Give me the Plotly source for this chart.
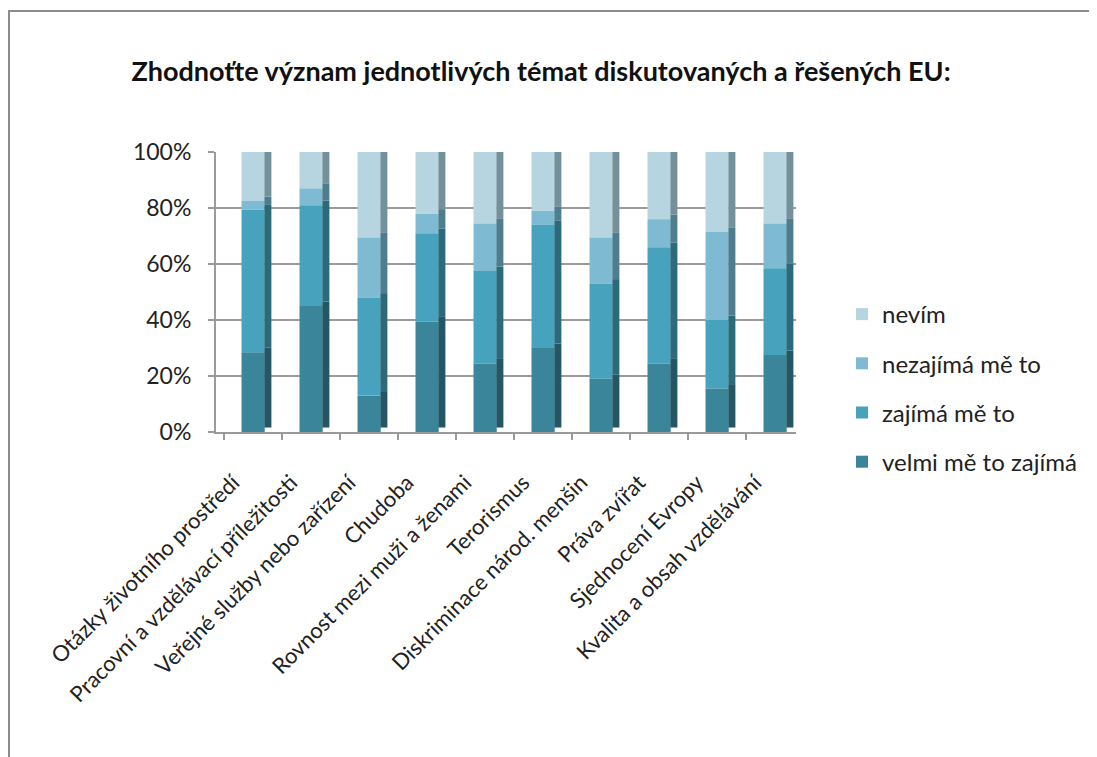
import numpy as np
import plotly.graph_objects as go

categories = [
    "Otázky životního prostředí",
    "Pracovní a vzdělávací příležitosti",
    "Veřejné služby nebo zařízení",
    "Chudoba",
    "Rovnost mezi muži a ženami",
    "Terorismus",
    "Diskriminace národ. menšin",
    "Práva zvířat",
    "Sjednocení Evropy",
    "Kvalita a obsah vzdělávání",
]
series_names = ["velmi mě to zajímá", "zajímá mě to", "nezajímá mě to", "nevím"]
velmi = [28.5, 45, 13, 39.5, 24.5, 30, 19, 24.5, 15.5, 27.5]
zajima = [51, 36, 35, 31.5, 33, 44, 34, 41.5, 24.5, 31]
nezajima = [3, 6, 21.5, 7, 17, 5, 16.5, 10, 31.5, 16]
nevim = [17.5, 13, 30.5, 22, 25.5, 21, 30.5, 24, 28.5, 25.5]
y_ticks = [0, 20, 40, 60, 80, 100]
y_tick_labels = ["0%", "20%", "40%", "60%", "80%", "100%"]

front_colors = ["#3a8599", "#47a3bd", "#7ebbd2", "#b7d5e0"]
side_colors = ["#245664", "#2c6979", "#4e7e8d", "#74909a"]

values = np.array([velmi, zajima, nezajima, nevim], dtype=float)
totals = values.sum(axis=0)
pct = values / totals * 100
bases = np.vstack([np.zeros(len(categories)), np.cumsum(pct, axis=0)[:-1]])

font_family = "Lato, 'Open Sans', sans-serif"
fig = go.Figure()

front_w = 0.40
side_w = 0.12
lift = 1.6

# front faces, added top series first so the legend lists "nevím" first
for i in reversed(range(len(series_names))):
    name = series_names[i]
    fig.add_trace(go.Bar(
        x=categories, y=pct[i], base=bases[i],
        width=front_w, offset=-front_w / 2,
        name=name, legendgroup=name,
        marker=dict(color=front_colors[i], line=dict(width=0)),
        cliponaxis=False,
    ))

# side faces (3D depth imitation)
for i, name in enumerate(series_names):
    fig.add_trace(go.Bar(
        x=categories, y=pct[i], base=bases[i] + lift,
        width=side_w, offset=front_w / 2 - 0.005,
        marker=dict(color=side_colors[i], line=dict(width=0)),
        showlegend=False, hoverinfo="skip", legendgroup=name,
        cliponaxis=False,
    ))

# page body has an 8px margin; figure coordinates below compensate for it
W, H = 1089, 749
ml, mr, mt, mb = 208, 301, 144, 325
PW, PH = W - ml - mr, H - mt - mb

fig.update_layout(
    width=W, height=H,
    barmode="overlay",
    paper_bgcolor="white",
    plot_bgcolor="white",
    margin=dict(l=ml, r=mr, t=mt, b=mb, autoexpand=False),
    font=dict(family=font_family, size=21, color="#222222"),
    title=dict(
        text="<b>Zhodnoťte význam jednotlivých témat diskutovaných a řešených EU:</b>",
        x=(533) / W, xref="container", xanchor="center",
        y=1 - 64 / H, yref="container", yanchor="middle",
        font=dict(family=font_family, size=27, color="#111111"),
    ),
    legend=dict(
        x=(834 - ml) / PW, xanchor="left",
        y=(H - mb - 380) / PH, yanchor="middle",
        traceorder="grouped",
        tracegroupgap=15,
        font=dict(size=24, family=font_family, color="#222222"),
        bgcolor="rgba(0,0,0,0)",
        itemwidth=30,
    ),
    xaxis=dict(
        type="category",
        range=[-0.64, 9.36],
        tickangle=-45,
        showgrid=False,
        showline=True, linecolor="#9a9a9a", linewidth=2,
        ticks="outside", ticklen=6, tickcolor="#9a9a9a", tickwidth=2,
        tickson="boundaries",
        tickfont=dict(size=22, family=font_family, color="#222222"),
        zeroline=False,
        ticklabelshift=-20,
        ticklabelstandoff=27,
    ),
    yaxis=dict(
        range=[0, 100],
        tickvals=y_ticks, ticktext=y_tick_labels,
        showgrid=True, gridcolor="#9a9a9a", gridwidth=2,
        showline=True, linecolor="#9a9a9a", linewidth=2,
        ticks="outside", ticklen=6, tickcolor="#9a9a9a", tickwidth=2,
        tickfont=dict(size=23, family=font_family, color="#222222"),
        zeroline=False,
        ticklabelstandoff=12,
    ),
)

# chart frame (border around chart area, cut at right/bottom like the reference)
fig.add_shape(type="rect", xref="paper", yref="paper",
              x0=(1 - ml) / PW, x1=(W + 10 - ml) / PW,
              y0=(H - mb - (H + 10)) / PH, y1=(H - mb - 3) / PH,
              line=dict(color="#8c8c8c", width=2), layer="below")

fig.write_html("out.html")
